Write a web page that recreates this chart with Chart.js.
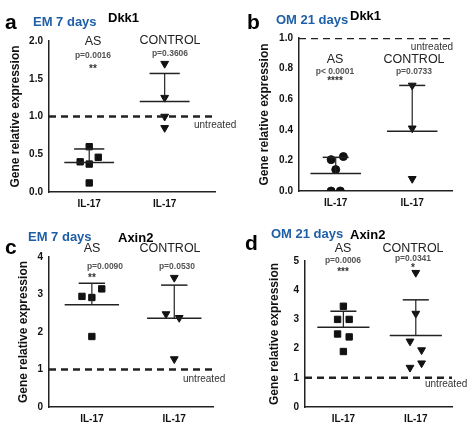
<!DOCTYPE html>
<html>
<head>
<meta charset="utf-8">
<script src="https://cdn.jsdelivr.net/npm/chart.js@4.4.0/dist/chart.umd.min.js"></script>
<style>
  body { margin: 0; background: #fff; font-family: Arial, "Liberation Sans", sans-serif; }
  #wrap { position: relative; width: 474px; height: 428px; }
  canvas { position: absolute; }
  .t { position: absolute; white-space: nowrap; transform: translate(-50%, -50%); }
  .l { position: absolute; white-space: nowrap; transform: translate(0, -50%); }
  .big { font-size: 21px; font-weight: bold; }
  .blue { color: #1f5fa6; font-size: 13px; font-weight: bold; }
  .gene { font-size: 13px; font-weight: bold; }
  .grp { font-size: 12.5px; color: #222; }
  .p { font-size: 8.5px; color: #555; font-weight: bold; }
  .st { font-size: 10px; color: #333; font-weight: bold; }
  .un { font-size: 10px; color: #333; }
</style>
</head>
<body>
<div id="wrap">
  <canvas id="ca" width="237" height="214" style="left:0;top:0"></canvas>
  <canvas id="cb" width="237" height="214" style="left:237px;top:0"></canvas>
  <canvas id="cc" width="237" height="214" style="left:0;top:214px"></canvas>
  <canvas id="cd" width="237" height="214" style="left:237px;top:214px"></canvas>

  <div class="l big" style="left:5px;top:22px">a</div>
  <div class="l blue" style="left:33px;top:21px">EM 7 days</div>
  <div class="l gene" style="left:108px;top:17px">Dkk1</div>
  <div class="t grp" style="left:93px;top:41px">AS</div>
  <div class="t p" style="left:93px;top:55px">p=0.0016</div>
  <div class="t st" style="left:93px;top:68px">**</div>
  <div class="t grp" style="left:170px;top:40px">CONTROL</div>
  <div class="t p" style="left:170px;top:53px">p=0.3606</div>
  <div class="l un" style="left:194px;top:124px">untreated</div>

  <div class="l big" style="left:247px;top:22px">b</div>
  <div class="l blue" style="left:276px;top:19px">OM 21 days</div>
  <div class="l gene" style="left:350px;top:15px">Dkk1</div>
  <div class="t un" style="left:432px;top:46px">untreated</div>
  <div class="t grp" style="left:335px;top:59px">AS</div>
  <div class="t p" style="left:335px;top:71px">p&lt; 0.0001</div>
  <div class="t st" style="left:335px;top:80px">****</div>
  <div class="t grp" style="left:414px;top:59px">CONTROL</div>
  <div class="t p" style="left:414px;top:71px">p=0.0733</div>

  <div class="l big" style="left:5px;top:247px">c</div>
  <div class="l blue" style="left:28px;top:236px">EM 7 days</div>
  <div class="l gene" style="left:118px;top:237px">Axin2</div>
  <div class="t grp" style="left:92px;top:248px">AS</div>
  <div class="t p" style="left:105px;top:266px">p=0.0090</div>
  <div class="t st" style="left:92px;top:277px">**</div>
  <div class="t grp" style="left:170px;top:248px">CONTROL</div>
  <div class="t p" style="left:177px;top:266px">p=0.0530</div>
  <div class="l un" style="left:183px;top:378px">untreated</div>

  <div class="l big" style="left:245px;top:243px">d</div>
  <div class="l blue" style="left:271px;top:233px">OM 21 days</div>
  <div class="l gene" style="left:350px;top:234px">Axin2</div>
  <div class="t grp" style="left:343px;top:248px">AS</div>
  <div class="t p" style="left:343px;top:260px">p=0.0006</div>
  <div class="t st" style="left:343px;top:271px">***</div>
  <div class="t grp" style="left:413px;top:248px">CONTROL</div>
  <div class="t p" style="left:413px;top:258px">p=0.0341</div>
  <div class="t st" style="left:413px;top:267px">*</div>
  <div class="l un" style="left:425px;top:383px">untreated</div>
</div>
<script>
// panel a: EM 7 days Dkk1
const aAsY = [0.60, 0.46, 0.40, 0.37, 0.12];
const aAsDx = [0, 0.12, -0.12, 0, 0];
const aCtY = [1.70, 1.25, 1.00, 0.85];
const aCtDx = [0, 0, 0, 0];
const aMean = [0.39, 1.20];
const aUpper = [0.57, 1.57];
const aTicks = [0, 0.5, 1.0, 1.5, 2.0];

// panel b: OM 21 days Dkk1
const bAsY = [0.225, 0.205, 0.14, 0.0, 0.0];
const bAsDx = [0.1, -0.06, 0, -0.06, 0.06];
const bCtY = [0.69, 0.41, 0.08];
const bCtDx = [0, 0, 0];
const bMean = [0.115, 0.39];
const bUpper = [0.22, 0.69];
const bTicks = [0, 0.2, 0.4, 0.6, 0.8, 1.0];

// panel c: EM 7 days Axin2
const cAsY = [3.15, 2.95, 2.92, 1.88];
const cAsDx = [0.12, -0.12, 0, 0];
const cCtY = [3.45, 2.48, 2.38, 1.28];
const cCtDx = [0, -0.1, 0.06, 0];
const cMean = [2.73, 2.37];
const cUpper = [3.30, 3.25];
const cTicks = [0, 1, 2, 3, 4];

// panel d: OM 21 days Axin2
const dAsY = [3.45, 3.0, 3.0, 2.5, 2.4, 1.9];
const dAsDx = [0, -0.08, 0.08, -0.08, 0.08, 0];
const dCtY = [4.6, 3.2, 2.25, 1.95, 1.5, 1.35];
const dCtDx = [0, 0, -0.08, 0.08, 0.08, -0.08];
const dMean = [2.73, 2.45];
const dUpper = [3.28, 3.67];
const dTicks = [0, 1, 2, 3, 4, 5];

const categories = ["IL-17", "IL-17"];
const untreated = 1;

function line(pts, dash, w) {
  return { type: "line", data: pts, borderColor: "#222", borderWidth: w || 1.5,
    borderDash: dash || [], pointRadius: 0, showLine: true, fill: false };
}

function panel(id, asY, asDx, asStyle, ctY, ctDx, yMax, mean, upper, ticks, geo) {
  const ds = [];
  ds.push(line([{ x: geo.xmin, y: untreated }, { x: geo.xmax, y: untreated }], [7, 5], 2.5));
  for (let g = 0; g < 2; g++) {
    const c = g + 1;
    ds.push(line([{ x: c - geo.mw, y: mean[g] }, { x: c + geo.mw, y: mean[g] }]));
    ds.push(line([{ x: c, y: mean[g] }, { x: c, y: upper[g] }], [], 1.2));
    ds.push(line([{ x: c - geo.cw, y: upper[g] }, { x: c + geo.cw, y: upper[g] }]));
  }
  ds.push({ type: "scatter", data: asY.map((y, i) => ({ x: 1 + asDx[i], y })),
    pointStyle: asStyle, pointRadius: asStyle === "circle" ? 4 : 4.5,
    backgroundColor: "#111", borderColor: "#111" });
  ds.push({ type: "scatter", data: ctY.map((y, i) => ({ x: 2 + ctDx[i], y })),
    pointStyle: "triangle", pointRotation: 180, pointRadius: 4.5,
    backgroundColor: "#111", borderColor: "#111" });

  new Chart(document.getElementById(id), {
    type: "scatter",
    data: { datasets: ds },
    options: {
      responsive: false, animation: false,
      layout: { padding: { top: geo.top, right: geo.right, left: 0, bottom: 0 } },
      plugins: { legend: { display: false }, tooltip: { enabled: false } },
      scales: {
        x: {
          type: "linear", min: geo.xmin, max: geo.xmax,
          afterBuildTicks: s => { s.ticks = [{ value: 1 }, { value: 2 }]; },
          afterFit: s => { s.height = geo.bottom; },
          grid: { display: false, drawTicks: true, tickLength: 4, tickColor: "#222" },
          border: { color: "#222", width: 1.5 },
          ticks: { callback: (v) => categories[v - 1], color: "#111",
            font: { size: 10, weight: "bold", family: "Arial" }, maxRotation: 0, padding: 2 }
        },
        y: {
          min: 0, max: yMax,
          afterBuildTicks: s => { s.ticks = ticks.map(v => ({ value: v })); },
          afterFit: s => { s.width = geo.left; },
          grid: { display: false, drawTicks: true, tickLength: 4, tickColor: "#222" },
          border: { color: "#222", width: 1.5 },
          ticks: { color: "#111", font: { size: 10, weight: "bold", family: "Arial" }, padding: 2,
            callback: v => geo.dec ? v.toFixed(geo.dec) : v },
          title: { display: true, text: "Gene relative expression", color: "#111",
            font: { size: 12, weight: "bold", family: "Arial" },
            padding: { top: geo.tp, bottom: 0 } }
        }
      }
    }
  });
}

panel("ca", aAsY, aAsDx, "rect", aCtY, aCtDx, 2.0, aMean, aUpper, aTicks,
  { left: 49, top: 41, bottom: 22, right: 22, xmin: 0.467, xmax: 2.667, mw: 0.33, cw: 0.2, dec: 1, tp: 8 });
panel("cb", bAsY, bAsDx, "circle", bCtY, bCtDx, 1.0, bMean, bUpper, bTicks,
  { left: 62, top: 38, bottom: 23, right: 22, xmin: 0.52, xmax: 2.52, mw: 0.33, cw: 0.17, dec: 1, tp: 20 });
panel("cc", cAsY, cAsDx, "rect", cCtY, cCtDx, 4, cMean, cUpper, cTicks,
  { left: 49, top: 43, bottom: 21, right: 24, xmin: 0.48, xmax: 2.47, mw: 0.33, cw: 0.16, dec: 0, tp: 16 });
panel("cd", dAsY, dAsDx, "rect", dCtY, dCtDx, 5, dMean, dUpper, dTicks,
  { left: 68, top: 47, bottom: 21, right: 22, xmin: 0.47, xmax: 2.5, mw: 0.36, cw: 0.18, dec: 0, tp: 30 });
</script>
</body>
</html>
